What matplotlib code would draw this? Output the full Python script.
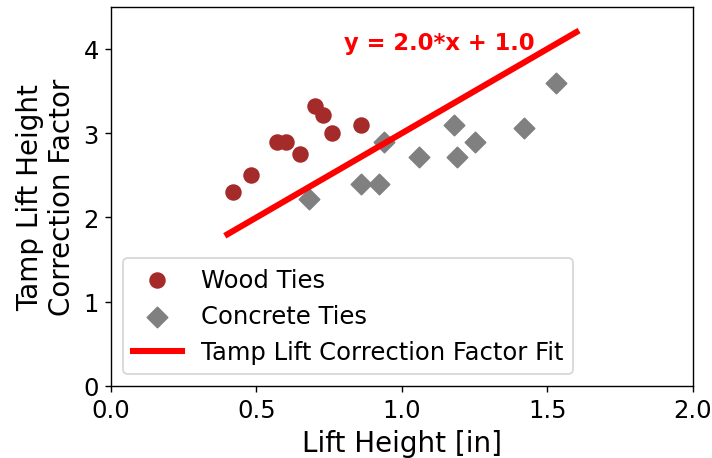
import numpy as np
import matplotlib
matplotlib.use("Agg")
import matplotlib.pyplot as plt

# lift height [in] vs tamp lift height correction factor
wood_x = [0.42, 0.48, 0.57, 0.60, 0.65, 0.70, 0.73, 0.76, 0.86]
wood_y = [2.30, 2.50, 2.90, 2.90, 2.75, 3.32, 3.22, 3.00, 3.10]

concrete_x = [0.68, 0.86, 0.92, 0.94, 1.06, 1.18, 1.19, 1.25, 1.42, 1.53]
concrete_y = [2.22, 2.40, 2.40, 2.90, 2.72, 3.10, 2.72, 2.90, 3.06, 3.60]

slope = 2.0
intercept = 1.0
fit_range = [0.4, 1.6]


def plot_graph():
    fig = plt.figure(figsize=(7.12 / 1.25, 4.59 / 1.25), dpi=125)
    ax = fig.add_axes([0.156, 0.157, 0.817, 0.826])

    ax.scatter(wood_x, wood_y, s=72, color='brown', marker='o', label='Wood Ties')
    ax.scatter(concrete_x, concrete_y, s=68, color='gray', marker='D', label='Concrete Ties')

    fit_x = np.array(fit_range)
    ax.plot(fit_x, slope * fit_x + intercept, color='red', linewidth=3.5,
            label='Tamp Lift Correction Factor Fit')

    ax.text(0.8, 4.0, 'y = %.1f*x + %.1f' % (slope, intercept), color='red',
            fontsize=13, fontweight='bold')

    ax.set_xlim(0, 2.0)
    ax.set_ylim(0, 4.5)
    ax.set_xticks([0.0, 0.5, 1.0, 1.5, 2.0])
    ax.set_yticks([0, 1, 2, 3, 4])
    ax.tick_params(labelsize=14)
    ax.set_xlabel('Lift Height [in]', fontsize=16)
    ax.set_ylabel('Tamp Lift Height\nCorrection Factor', fontsize=16)
    ax.legend(loc='lower left', fontsize=14)

    fig.savefig('out.png', dpi=125)


if __name__ == "__main__":
    plot_graph()
